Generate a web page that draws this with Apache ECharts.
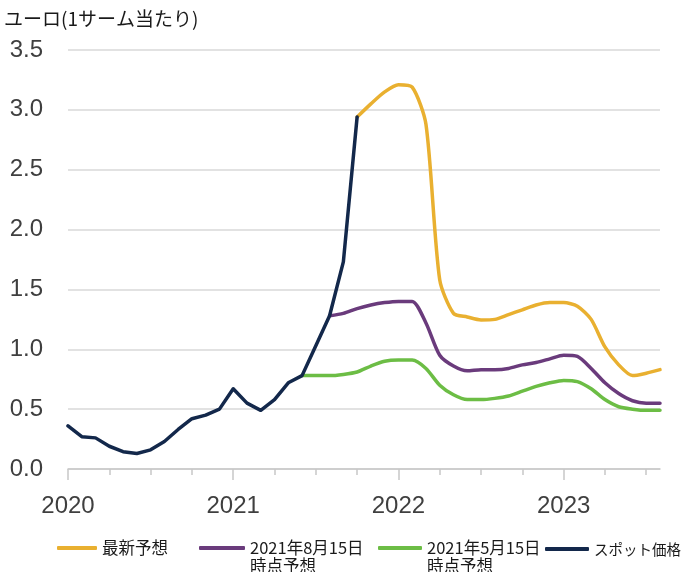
<!DOCTYPE html>
<html>
<head>
<meta charset="utf-8">
<script src="https://cdn.jsdelivr.net/npm/echarts@6/dist/echarts.min.js"></script>
<style>
  html, body { margin: 0; padding: 0; background: #fff; }
  #chart { width: 683px; height: 572px; }
</style>
</head>
<body>
<div id="chart"></div>
<script>
// Monthly gas price, euros per therm: spot history and three forecast vintages
var months = [
  '2020-01','2020-02','2020-03','2020-04','2020-05','2020-06','2020-07','2020-08','2020-09','2020-10','2020-11','2020-12',
  '2021-01','2021-02','2021-03','2021-04','2021-05','2021-06','2021-07','2021-08','2021-09','2021-10','2021-11','2021-12',
  '2022-01','2022-02','2022-03','2022-04','2022-05','2022-06','2022-07','2022-08','2022-09','2022-10','2022-11','2022-12',
  '2023-01','2023-02','2023-03','2023-04','2023-05','2023-06','2023-07','2023-08'
];

var yTicks = [0, 0.5, 1.0, 1.5, 2.0, 2.5, 3.0, 3.5];

var seriesNames = ['最新予想', '2021年8月15日\n時点予想', '2021年5月15日\n時点予想', 'スポット価格'];

// spot price, Jan 2020 – Oct 2021
var spot = [0.36, 0.27, 0.26, 0.19, 0.145, 0.13, 0.16, 0.23, 0.33, 0.42, 0.45, 0.50,
            0.67, 0.55, 0.49, 0.58, 0.72, 0.78, 1.03, 1.28, 1.73, 2.94,
            null, null, null, null, null, null, null, null, null, null, null, null,
            null, null, null, null, null, null, null, null, null, null];

// latest forecast, from Oct 2021
var latest = [null, null, null, null, null, null, null, null, null, null, null, null,
              null, null, null, null, null, null, null, null, null,
              2.94, 3.05, 3.15, 3.21, 3.19, 2.88, 1.58, 1.30, 1.27, 1.245, 1.25, 1.29,
              1.33, 1.37, 1.39, 1.39, 1.36, 1.25, 1.02, 0.87, 0.78, 0.80, 0.83];

// forecast as of 15 Aug 2021, from Aug 2021
var aug15 = [null, null, null, null, null, null, null, null, null, null, null, null,
             null, null, null, null, null, null, null,
             1.28, 1.30, 1.34, 1.37, 1.39, 1.40, 1.40, 1.22, 0.95, 0.86, 0.82, 0.83, 0.83,
             0.84, 0.87, 0.89, 0.92, 0.95, 0.94, 0.84, 0.72, 0.63, 0.57, 0.55, 0.55];

// forecast as of 15 May 2021, from Jun 2021
var may15 = [null, null, null, null, null, null, null, null, null, null, null, null,
             null, null, null, null, null,
             0.78, 0.78, 0.78, 0.79, 0.81, 0.86, 0.90, 0.91, 0.91, 0.84, 0.70, 0.62, 0.58,
             0.58, 0.59, 0.61, 0.65, 0.69, 0.72, 0.74, 0.73, 0.67, 0.58, 0.52, 0.50, 0.49, 0.49];

var colors = ['#E9B030', '#6A3B7C', '#6CBD45', '#13284B'];
var values = [latest, aug15, may15, spot];

var chart = echarts.init(document.getElementById('chart'), null, { renderer: 'canvas' });

var jpFont = '"Noto Sans CJK JP", "Noto Sans", sans-serif';
var numFont = '"Liberation Sans", Arial, sans-serif';

// one legend block per series so each can sit at its own spot;
// two-line names get an empty leading line so the first line lines up with the swatch
function legendFor(i, left, top, width, twoLine) {
  return {
    show: true,
    data: [seriesNames[i]],
    left: left,
    top: top,
    padding: 0,
    itemWidth: width,
    itemHeight: 4,
    itemGap: 0,
    icon: 'roundRect',
    selectedMode: false,
    formatter: function (name) { return twoLine ? ' \n' + name : name; },
    textStyle: {
      fontFamily: jpFont,
      fontSize: i === 3 ? 14.5 : 16.5,
      color: '#1a1a1a',
      lineHeight: 18
    }
  };
}

var option = {
  animation: false,
  backgroundColor: '#ffffff',
  title: {
    text: 'ユーロ(1サーム当たり)',
    left: 4,
    top: 9,
    padding: 0,
    textStyle: { fontFamily: jpFont, fontSize: 19, fontWeight: 'normal', color: '#1a1a1a' }
  },
  legend: [
    legendFor(0, 57, 539, 40, false),
    legendFor(1, 199, 521, 46, true),
    legendFor(2, 378, 521, 44, true),
    legendFor(3, 545, 540, 44, false)
  ],
  grid: { left: 68, right: 23, top: 50, bottom: 103, containLabel: false },
  xAxis: [
    {
      type: 'category',
      data: months,
      boundaryGap: false,
      axisLine: { lineStyle: { color: '#c8c8c8', width: 1.5 } },
      axisTick: {
        length: 6,
        lineStyle: { color: '#c8c8c8', width: 1.5 },
        interval: function (idx) { return idx % 3 === 0; }
      },
      axisLabel: {
        interval: function (idx) { return idx % 12 === 0; },
        formatter: function (v) { return v.slice(0, 4); },
        margin: 25,
        fontFamily: numFont,
        fontSize: 24,
        color: '#3f3f3f'
      },
      splitLine: { show: false }
    },
    {
      type: 'category',
      data: months,
      boundaryGap: false,
      position: 'bottom',
      axisLine: { show: false },
      axisTick: {
        length: 11,
        lineStyle: { color: '#c8c8c8', width: 1.5 },
        interval: function (idx) { return idx % 12 === 0; }
      },
      axisLabel: { show: false },
      splitLine: { show: false }
    }
  ],
  yAxis: {
    type: 'value',
    min: yTicks[0],
    max: yTicks[yTicks.length - 1],
    interval: 0.5,
    axisLine: { show: false },
    axisTick: { show: false },
    axisLabel: {
      margin: 25,
      fontFamily: numFont,
      fontSize: 24,
      color: '#3f3f3f',
      formatter: function (v) { return v.toFixed(1); }
    },
    splitLine: { lineStyle: { color: '#d9d9d9', width: 1.5 } }
  },
  series: values.map(function (arr, i) {
    return {
      name: seriesNames[i],
      type: 'line',
      data: arr,
      xAxisIndex: 0,
      showSymbol: false,
      symbol: 'none',
      smooth: i === 3 ? false : 0.25,
      connectNulls: false,
      z: 2 + (i === 3 ? 10 : 3 - i),
      itemStyle: { color: colors[i] },
      lineStyle: { color: colors[i], width: 3.5, cap: 'round', join: 'round' }
    };
  })
};

chart.setOption(option);
</script>
</body>
</html>
